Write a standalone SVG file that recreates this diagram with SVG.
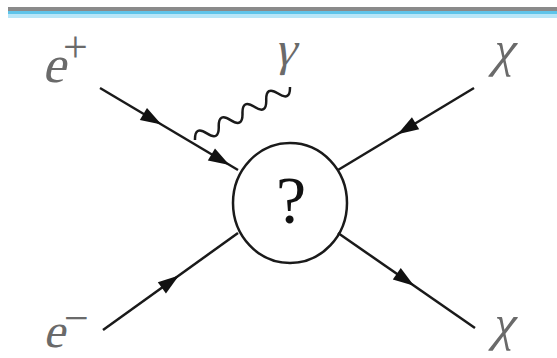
<svg xmlns="http://www.w3.org/2000/svg" width="557" height="358" viewBox="0 0 557 358">
<style>
.ln{stroke:#1a1a1a;stroke-width:2.5;fill:none}
</style>
<defs>
<path id="arr" d="M11,0 L-10,-7 L-10,7 Z" fill="#111"/>
</defs>
<rect x="0" y="0" width="557" height="358" fill="#fff"/>
<g id="header">
<rect x="8" y="7" width="549" height="4" fill="#8a8a8a"/>
<rect x="8" y="11" width="549" height="3" fill="#5ec4ea"/>
<rect x="8" y="14" width="549" height="4" fill="#b8e6f8"/>
</g>
<g id="connectors">
<line class="ln" x1="100" y1="88" x2="238" y2="170"/>
<line class="ln" x1="338" y1="170" x2="474" y2="88"/>
<line class="ln" x1="103" y1="330" x2="238" y2="233"/>
<line class="ln" x1="338" y1="233" x2="475" y2="328"/>
<path class="ln" transform="translate(195,140) rotate(-29.2)" d="M0,0 q6.8,-13 13.6,0 t13.6,0 t13.6,0 t13.6,0 t13.6,0 t13.6,0 t13.6,0 t13.6,0"/>
<use href="#arr" transform="translate(152,119) rotate(30.7)"/>
<use href="#arr" transform="translate(220,159.5) rotate(30.7)"/>
<use href="#arr" transform="translate(407,128.5) rotate(148.9)"/>
<use href="#arr" transform="translate(170,282) rotate(-35.7)"/>
<use href="#arr" transform="translate(405,279.5) rotate(34.7)"/>
</g>
<g id="blob">
<ellipse cx="290" cy="203" rx="57" ry="60" class="ln"/>
<text x="291" y="223" text-anchor="middle" font-family="'Liberation Serif',serif" font-size="68" fill="#111">?</text>
</g>
<g id="e-plus" font-family="'Liberation Serif',serif" fill="#6a6a6a">
<text transform="translate(42,82) skewX(-14)" font-size="52">e</text>
<text x="63" y="62" font-size="44">+</text>
</g>
<g id="gamma" font-family="'Liberation Serif',serif" fill="#6a6a6a">
<text transform="translate(274,65) skewX(-14)" font-size="48">γ</text>
</g>
<g id="chi-top" font-family="'Liberation Serif',serif" fill="#6a6a6a">
<text transform="translate(491,66) skewX(-14)" font-size="50">χ</text>
</g>
<g id="e-minus" font-family="'Liberation Serif',serif" fill="#6a6a6a">
<text transform="translate(43,347) skewX(-14)" font-size="48">e</text>
<text x="64" y="333" font-size="44">−</text>
</g>
<g id="chi-bottom" font-family="'Liberation Serif',serif" fill="#6a6a6a">
<text transform="translate(491,340) skewX(-14)" font-size="50">χ</text>
</g>
</svg>
